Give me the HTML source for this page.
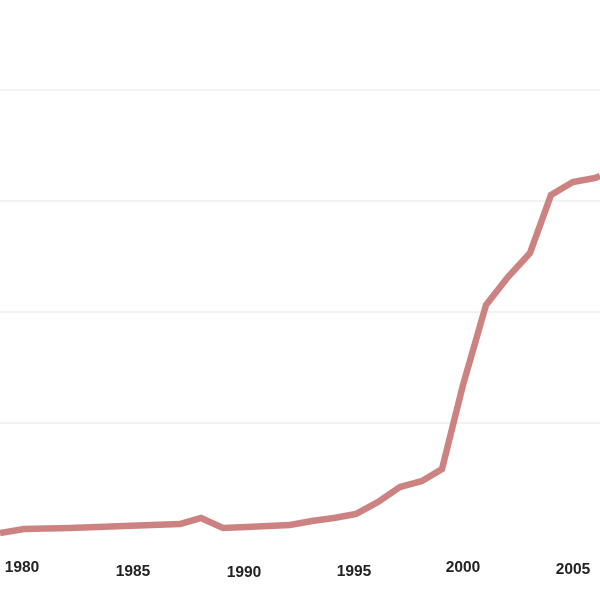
<!DOCTYPE html>
<html><head><style>
html,body{margin:0;padding:0;background:#fff;}
svg{display:block;}
text{font-family:"Liberation Sans",sans-serif;font-weight:bold;font-size:15.5px;fill:#222;text-anchor:middle;}
</style></head><body>
<svg width="600" height="600" viewBox="0 0 600 600">
<g stroke="#e6e6e6" stroke-width="1">
<line x1="0" y1="90" x2="600" y2="90"/>
<line x1="0" y1="201" x2="600" y2="201"/>
<line x1="0" y1="312" x2="600" y2="312"/>
<line x1="0" y1="423" x2="600" y2="423"/>
</g>
<polyline fill="none" stroke="#cd8282" stroke-width="6.5" stroke-linejoin="miter" points="0,533 24,529 70,528 180,524 201,518 223,528 290,525 312,521 334,518 356,514 378,502 400,487 422,481 442,469 463,385 486,305 508,277 530,253 551,195 573,182 595,178 600,176"/>
<text x="22" y="572">1980</text>
<text x="133" y="576">1985</text>
<text x="244" y="577">1990</text>
<text x="354" y="576">1995</text>
<text x="463" y="572">2000</text>
<text x="573" y="574">2005</text>
</svg>
</body></html>
